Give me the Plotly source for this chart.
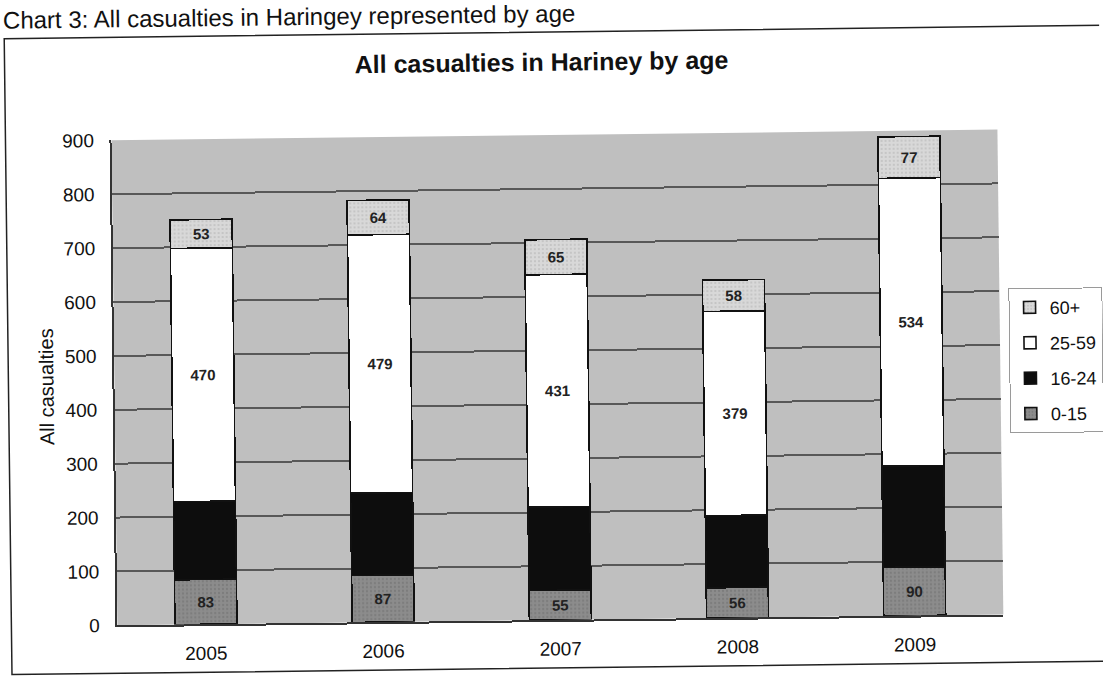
import plotly.graph_objects as go

# Casualty counts by year and age band
years = ["2005", "2006", "2007", "2008", "2009"]
age_0_15 = [83, 87, 55, 56, 90]
age_16_24 = [145, 153, 155, 134, 188]
age_25_59 = [470, 479, 431, 379, 534]
age_60_plus = [53, 64, 65, 58, 77]

y_ticks = [0, 100, 200, 300, 400, 500, 600, 700, 800, 900]

W, H = 1103, 689
L, R, T, B = 114, 103, 135, 69
PW, PH = W - L - R, H - T - B


def px_x(px):
    return (px - L) / PW


def px_y(py):
    return (H - B - py) / PH


FONT = "Liberation Sans, Arial, sans-serif"

# name, values, marker fill, show value labels, legend rank
series = [
    ("0-15", age_0_15, dict(color="#8c8c8c", pattern=dict(shape=".", fgcolor="#6c6c6c", bgcolor="#8c8c8c", size=4, solidity=0.25)), True, 4),
    ("16-24", age_16_24, dict(color="#0d0d0d"), False, 3),
    ("25-59", age_25_59, dict(color="#ffffff"), True, 2),
    ("60+", age_60_plus, dict(color="#d4d4d4", pattern=dict(shape=".", fgcolor="#a6a6a6", bgcolor="#d8d8d8", size=4, solidity=0.2)), True, 1),
]

fig = go.Figure()
for name, vals, mk, labelled, rank in series:
    fig.add_trace(go.Bar(
        name=name,
        x=years,
        y=vals,
        legendgroup=name,
        legendrank=rank,
        marker=dict(line=dict(color="#111111", width=1.6), **mk),
        text=[f"<b>{v}</b>" for v in vals] if labelled else None,
        textposition="inside" if labelled else "none",
        insidetextanchor="middle",
        textangle=0,
        constraintext="none",
        textfont=dict(family=FONT, size=15, color="#222222"),
    ))

fig.update_layout(
    width=W,
    height=H,
    barmode="stack",
    bargap=0.65,
    margin=dict(l=L, r=R, t=T, b=B, autoexpand=False),
    paper_bgcolor="#ffffff",
    plot_bgcolor="#bfbfbf",
    font=dict(family=FONT, color="#111111"),
    title=dict(
        text="<b>All casualties in Hariney by age</b>",
        x=545 / W, xanchor="center",
        y=1 - 62 / H, yanchor="middle",
        font=dict(family=FONT, size=25, color="#111111"),
    ),
    xaxis=dict(
        showgrid=False,
        showline=True, linecolor="#333333", linewidth=1.5,
        ticks="", ticklabelstandoff=11,
        tickfont=dict(family=FONT, size=19, color="#111111"),
    ),
    yaxis=dict(
        range=[0, 900],
        tickvals=y_ticks,
        ticktext=[str(v) for v in y_ticks],
        showgrid=True, gridcolor="#585858", gridwidth=1.6,
        showline=True, linecolor="#333333", linewidth=1.5,
        zeroline=False,
        ticks="", ticklabelstandoff=12,
        tickfont=dict(family=FONT, size=19, color="#111111"),
    ),
    legend=dict(
        x=px_x(1009), xanchor="left",
        y=px_y(294), yanchor="top",
        traceorder="grouped",
        tracegroupgap=9,
        bgcolor="#ffffff",
        bordercolor="#9a9a9a", borderwidth=1,
        font=dict(family=FONT, size=18, color="#111111"),
        itemwidth=30,
    ),
    showlegend=True,
)

# Y-axis title
fig.add_annotation(
    text="All casualties",
    xref="paper", yref="paper",
    x=px_x(46), y=px_y(381),
    xanchor="center", yanchor="middle",
    textangle=-90, showarrow=False,
    font=dict(family=FONT, size=20, color="#111111"),
)

# Caption above the chart frame
fig.add_annotation(
    text="Chart 3: All casualties in Haringey represented by age",
    xref="paper", yref="paper",
    x=px_x(5), y=px_y(13),
    xanchor="left", yanchor="middle",
    showarrow=False,
    font=dict(family=FONT, size=24, color="#111111"),
)

# Frame around the chart
fig.add_shape(
    type="rect", xref="paper", yref="paper",
    x0=px_x(8), x1=px_x(1115), y0=px_y(668), y1=px_y(32),
    line=dict(color="#222222", width=1.5),
    fillcolor="rgba(0,0,0,0)", layer="below",
)

fig.write_html(
    "out.html",
    post_script=(
        "var gd=document.getElementById('{plot_id}');"
        "gd.style.transformOrigin='50% 50%';"
        "gd.style.transform='rotate(-0.7deg)';"
        "document.body.style.margin='0';"
    ),
)
